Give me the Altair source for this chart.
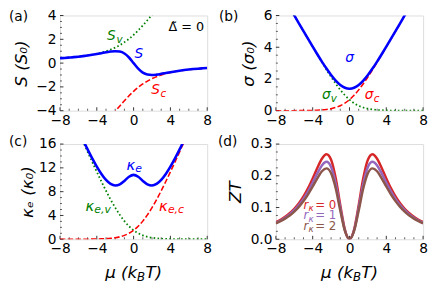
import altair as alt
import pandas as pd

FONT = "DejaVu Sans"
W, H = 150, 97

# chemical potential grid (k_B T units)
MU = [-8, -7.5, -7, -6.5, -6, -5.5, -5, -4.5, -4, -3.5, -3, -2.5, -2, -1.5, -1, -0.5, 0,
      0.5, 1, 1.5, 2, 2.5, 3, 3.5, 4, 4.5, 5, 5.5, 6, 6.5, 7, 7.5, 8]

# (a) Seebeck coefficient
S_TOT = [0.410, 0.437, 0.468, 0.502, 0.541, 0.586, 0.638, 0.696, 0.761, 0.832, 0.905, 0.968, 1.002, 0.966, 0.805, 0.472, 0.0,
         -0.472, -0.805, -0.966, -1.002, -0.968, -0.905, -0.832, -0.761, -0.696, -0.638, -0.586, -0.541, -0.502, -0.468, -0.437, -0.410]
S_C = [-10.0, -9.5, -9.0, -8.5, -8.0, -7.5, -7.0, -6.51, -6.01, -5.51, -5.02, -4.54, -4.06, -3.60, -3.16, -2.75, -2.37,
       -2.04, -1.75, -1.51, -1.30, -1.14, -1.00, -0.886, -0.792, -0.713, -0.648, -0.592, -0.545, -0.504, -0.469, -0.438, -0.411]
S_V = [0.411, 0.438, 0.469, 0.504, 0.545, 0.592, 0.648, 0.713, 0.792, 0.886, 1.00, 1.14, 1.30, 1.51, 1.75, 2.04, 2.37,
       2.75, 3.16, 3.60, 4.06, 4.54, 5.02, 5.51, 6.01, 6.51, 7.0, 7.5, 8.0, 8.5, 9.0, 9.5, 10.0]

# (b) conductivity
SIG_TOT = [8.001, 7.501, 7.002, 6.503, 6.005, 5.508, 5.013, 4.522, 4.036, 3.560, 3.097, 2.658, 2.254, 1.903, 1.627, 1.448, 1.386,
           1.448, 1.627, 1.903, 2.254, 2.658, 3.097, 3.560, 4.036, 4.522, 5.013, 5.508, 6.005, 6.503, 7.002, 7.501, 8.001]
SIG_C = [0.0003, 0.0006, 0.0009, 0.0015, 0.0025, 0.0041, 0.0067, 0.0110, 0.0182, 0.0298, 0.0486, 0.0789, 0.1269, 0.2014, 0.3133, 0.4741, 0.6931,
         0.9741, 1.3133, 1.7014, 2.1269, 2.5789, 3.0486, 3.5298, 4.0182, 4.5110, 5.0067, 5.5041, 6.0025, 6.5015, 7.0009, 7.5006, 8.0003]
SIG_V = [8.0003, 7.5006, 7.0009, 6.5015, 6.0025, 5.5041, 5.0067, 4.5110, 4.0182, 3.5298, 3.0486, 2.5789, 2.1269, 1.7014, 1.3133, 0.9741, 0.6931,
         0.4741, 0.3133, 0.2014, 0.1269, 0.0789, 0.0486, 0.0298, 0.0182, 0.0110, 0.0067, 0.0041, 0.0025, 0.0015, 0.0009, 0.0006, 0.0003]

# (c) electronic thermal conductivity
KAP_TOT = [25.04, 23.34, 21.65, 19.97, 18.31, 16.68, 15.10, 13.59, 12.21, 10.98, 9.984, 9.303, 9.027, 9.214, 9.803, 10.499, 10.819,
           10.499, 9.803, 9.214, 9.027, 9.303, 9.984, 10.98, 12.21, 13.59, 15.10, 16.68, 18.31, 19.97, 21.65, 23.34, 25.04]
KAP_C = [0.0007, 0.0011, 0.0018, 0.0030, 0.0050, 0.0082, 0.0134, 0.0221, 0.0364, 0.0597, 0.0978, 0.1593, 0.2579, 0.4130, 0.6510, 1.0041, 1.5056,
         2.1823, 3.0474, 4.0979, 5.3164, 6.6770, 8.1510, 9.7110, 11.333, 12.999, 14.692, 16.402, 18.121, 19.844, 21.566, 23.287, 25.003]
KAP_V = [25.003, 23.287, 21.566, 19.844, 18.121, 16.402, 14.692, 12.999, 11.333, 9.7110, 8.1510, 6.6770, 5.3164, 4.0979, 3.0474, 2.1823, 1.5056,
         1.0041, 0.6510, 0.4130, 0.2579, 0.1593, 0.0978, 0.0597, 0.0364, 0.0221, 0.0134, 0.0082, 0.0050, 0.0030, 0.0018, 0.0011, 0.0007]

# (d) figure of merit
ZT0 = [0.0538, 0.0614, 0.0707, 0.0821, 0.0961, 0.1135, 0.1349, 0.1610, 0.1915, 0.2245, 0.2538, 0.2679, 0.2506, 0.1928, 0.1074, 0.0307, 0.0,
       0.0307, 0.1074, 0.1928, 0.2506, 0.2679, 0.2538, 0.2245, 0.1915, 0.1610, 0.1349, 0.1135, 0.0961, 0.0821, 0.0707, 0.0614, 0.0538]
ZT1 = [0.0519, 0.0591, 0.0679, 0.0785, 0.0916, 0.1077, 0.1273, 0.1510, 0.1784, 0.2075, 0.2328, 0.2443, 0.2279, 0.1756, 0.0984, 0.0283, 0.0,
       0.0283, 0.0984, 0.1756, 0.2279, 0.2443, 0.2328, 0.2075, 0.1784, 0.1510, 0.1273, 0.1077, 0.0916, 0.0785, 0.0679, 0.0591, 0.0519]
ZT2 = [0.0501, 0.0569, 0.0651, 0.0751, 0.0873, 0.1022, 0.1202, 0.1417, 0.1663, 0.1921, 0.2142, 0.2234, 0.2080, 0.1606, 0.0904, 0.0261, 0.0,
       0.0261, 0.0904, 0.1606, 0.2080, 0.2234, 0.2142, 0.1921, 0.1663, 0.1417, 0.1202, 0.1022, 0.0873, 0.0751, 0.0651, 0.0569, 0.0501]

X_MAJOR = [-8, -4, 0, 4, 8]
X_MINOR = [-7, -6, -5, -3, -2, -1, 1, 2, 3, 5, 6, 7]

BLUE, GREEN, RED = "#0000ff", "#008000", "#ff0000"
TRED, TPURPLE, TBROWN = "#d62728", "#9467bd", "#8c564b"
TICK = "#333333"
DOT = [1.6, 2.4]
DASH = [5.5, 2.4]

xs = alt.Scale(domain=[-8, 8], nice=False, zero=False)
xaxis = alt.Axis(values=X_MAJOR, ticks=False, tickSize=0, domain=False, grid=False,
                 labelFontSize=14, labelFont=FONT, labelColor="black", labelPadding=3,
                 labelFlush=False, labelOverlap=False, title=None)


def panel(ydom, ymajor, yminor, yfmt, ytitle, tpad, series, labels, plabel, pxy, xtitle):
    ys = alt.Scale(domain=ydom, nice=False, zero=False)
    yaxis = alt.Axis(values=ymajor, format=yfmt, ticks=False, tickSize=0, domain=False, grid=False,
                     labelFontSize=14, labelFont=FONT, labelColor="black", labelPadding=4,
                     labelOverlap=False, labelFlush=False,
                     title=ytitle, titleFontSize=17, titleFont=FONT, titleFontStyle="italic",
                     titleFontWeight="normal", titleColor="black", titlePadding=tpad)

    def X(f):
        return alt.X(f, type="quantitative", scale=xs, axis=xaxis)

    def Y(f):
        return alt.Y(f, type="quantitative", scale=ys, axis=yaxis)

    layers = []
    # inward ticks
    layers.append(alt.Chart(pd.DataFrame({"t": X_MAJOR})).mark_rule(color=TICK, strokeWidth=1)
                  .encode(x=X("t"), y=alt.value(H), y2=alt.value(H - 3.5)))
    layers.append(alt.Chart(pd.DataFrame({"t": X_MINOR})).mark_rule(color=TICK, strokeWidth=0.8)
                  .encode(x=X("t"), y=alt.value(H), y2=alt.value(H - 2)))
    layers.append(alt.Chart(pd.DataFrame({"t": ymajor})).mark_rule(color=TICK, strokeWidth=1)
                  .encode(y=Y("t"), x=alt.value(0), x2=alt.value(3.5)))
    layers.append(alt.Chart(pd.DataFrame({"t": yminor})).mark_rule(color=TICK, strokeWidth=0.8)
                  .encode(y=Y("t"), x=alt.value(0), x2=alt.value(2)))
    for vals, color, width, dash in series:
        kw = dict(color=color, strokeWidth=width, clip=True, interpolate="monotone")
        if dash:
            kw["strokeDash"] = dash
            kw["strokeCap"] = "butt"
        layers.append(alt.Chart(pd.DataFrame({"mu": MU, "v": vals})).mark_line(**kw)
                      .encode(x=X("mu"), y=Y("v")))
    for lx, ly, color, pieces in labels:
        df = pd.DataFrame({"x": [lx], "y": [ly]})
        for txt, dx, dy, size, style in pieces:
            layers.append(alt.Chart(df).mark_text(text=txt, dx=dx, dy=dy, fontSize=size, fontStyle=style,
                                                  font=FONT, color=color, align="left", baseline="middle")
                          .encode(x=X("x"), y=Y("y")))
    one = pd.DataFrame({"a": [0]})
    layers.append(alt.Chart(one).mark_text(text=plabel, fontSize=14, font=FONT, color="black",
                                           align="left", baseline="middle")
                  .encode(x=alt.value(pxy[0]), y=alt.value(pxy[1])))
    if xtitle:
        for txt, px, dy, size in [("\u03bc (k", 46, 0, 17), ("B", 78.5, 5, 12), ("T)", 87, 0, 17)]:
            layers.append(alt.Chart(one).mark_text(text=txt, fontSize=size, font=FONT, fontStyle="italic",
                                                   color="black", align="left", baseline="middle", dy=dy)
                          .encode(x=alt.value(px), y=alt.value(H + 34)))
    return alt.layer(*layers).properties(width=W, height=H)


def sub(main, s, w, size=14, ssize=10.5, style="italic"):
    return [(main, 0, 0, size, style), (s, w, 4, ssize, style)]


pa = panel([-4, 4], [-4, -2, 0, 2, 4], [-3.5, -3, -2.5, -1.5, -1, -0.5, 0.5, 1, 1.5, 2.5, 3, 3.5], "d",
           "S (S\u2080)", 6,
           [(S_V, GREEN, 1.8, DOT), (S_C, RED, 1.6, DASH), (S_TOT, BLUE, 2.6, None)],
           [(-2.88, 2.3, GREEN, sub("S", "v", 9.5)),
            (0.1, 0.8, BLUE, [("S", 0, 0, 14, "italic")]),
            (1.92, -2.25, RED, sub("S", "c", 9.5)),
            (3.8, 3.0, "black", [("\u0394\u0303 = 0", 0, 0, 13, "normal")])],
           "(a)", (-52, 2), False)

pb = panel([0, 6], [0, 2, 4, 6], [0.5, 1, 1.5, 2.5, 3, 3.5, 4.5, 5, 5.5], "d",
           "\u03c3 (\u03c3\u2080)", 6,
           [(SIG_V, GREEN, 1.8, DOT), (SIG_C, RED, 1.6, DASH), (SIG_TOT, BLUE, 2.6, None)],
           [(-0.45, 3.3, BLUE, [("\u03c3", 0, 0, 14, "italic")]),
            (-2.99, 1.0, GREEN, sub("\u03c3", "v", 9)),
            (1.67, 1.0, RED, sub("\u03c3", "c", 9))],
           "(b)", (-58, 2), False)

pc = panel([0, 16], [0, 4, 8, 12, 16], [1, 2, 3, 5, 6, 7, 9, 10, 11, 13, 14, 15], "d",
           "\u03ba\u2091 (\u03ba\u2080)", 2,
           [(KAP_V, GREEN, 1.8, DOT), (KAP_C, RED, 1.6, DASH), (KAP_TOT, BLUE, 2.6, None)],
           [(-0.78, 12.5, BLUE, sub("\u03ba", "e", 9, 15, 11)),
            (-5.23, 5.65, GREEN, sub("\u03ba", "e,v", 9, 15, 11)),
            (2.77, 5.65, RED, sub("\u03ba", "e,c", 9, 15, 11))],
           "(c)", (-52, -2), True)


def rk(n):
    return [("r", 0, 0, 12, "italic"), ("\u03ba", 5, 3.5, 9, "italic"), ("= " + n, 12, 0, 12, "normal")]


pd_ = panel([0, 0.3], [0.0, 0.1, 0.2, 0.3], [0.025, 0.05, 0.075, 0.125, 0.15, 0.175, 0.225, 0.25, 0.275], ".1f",
            "ZT", 6,
            [(ZT0, TRED, 2.5, None), (ZT1, TPURPLE, 2.5, None), (ZT2, TBROWN, 2.5, None)],
            [(-5.0, 0.108, TRED, rk("0")),
             (-5.0, 0.076, TPURPLE, rk("1")),
             (-5.0, 0.043, TBROWN, rk("2"))],
            "(d)", (-59, -2), True)

chart = alt.ConcatChart(
    concat=[pa, pb, pc, pd_], columns=2,
    spacing=alt.RowColnumber(row=34, column=70), bounds="flush",
).properties(padding={"top": -3, "left": 0, "right": 0, "bottom": 0}).configure_view(
    stroke="#7f7f7f", strokeWidth=1).configure(background="white")

chart.save("out.html", embed_options={"renderer": "svg", "actions": False})
